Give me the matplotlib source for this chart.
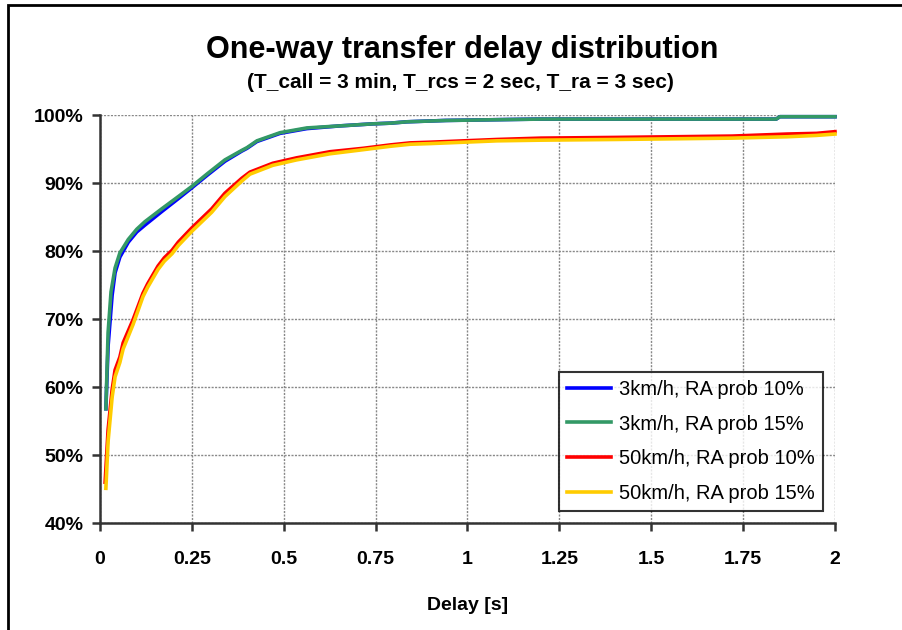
import matplotlib
matplotlib.use("Agg")
import matplotlib.pyplot as plt
from matplotlib.patches import Rectangle
from matplotlib.ticker import FuncFormatter, MultipleLocator

plt.rcParams['font.family'] = ['Liberation Sans', 'DejaVu Sans']

# ---- data (delay in s, cumulative fraction) ----
x_3km_10 = [0.016, 0.022, 0.033, 0.041, 0.054, 0.077, 0.10, 0.122, 0.168, 0.213, 0.25,
            0.293, 0.34, 0.386, 0.40, 0.427, 0.49, 0.563, 0.653, 0.743, 0.79, 0.835,
            0.94, 1.19, 1.84, 1.85, 2.0]
y_3km_10 = [0.568, 0.66, 0.735, 0.768, 0.791, 0.813, 0.828, 0.838, 0.858, 0.877, 0.893,
            0.912, 0.932, 0.947, 0.951, 0.961, 0.973, 0.980, 0.984, 0.987, 0.988, 0.990,
            0.992, 0.994, 0.994, 0.9975, 0.9975]

x_3km_15 = [0.016, 0.022, 0.030, 0.041, 0.054, 0.077, 0.10, 0.122, 0.168, 0.213, 0.25,
            0.293, 0.34, 0.386, 0.40, 0.427, 0.49, 0.563, 0.653, 0.743, 0.79, 0.835,
            0.945, 1.2, 1.84, 1.85, 2.0]
y_3km_15 = [0.568, 0.68, 0.74, 0.775, 0.797, 0.817, 0.832, 0.843, 0.862, 0.880, 0.895,
            0.914, 0.934, 0.948, 0.952, 0.962, 0.974, 0.981, 0.984, 0.987, 0.988, 0.990,
            0.992, 0.994, 0.994, 0.9975, 0.9975]

x_50km_10 = [0.014, 0.022, 0.033, 0.041, 0.054, 0.063, 0.09, 0.117, 0.13, 0.144, 0.158,
             0.175, 0.196, 0.213, 0.25, 0.304, 0.34, 0.386, 0.408, 0.47, 0.535, 0.626,
             0.716, 0.79, 0.844, 0.9, 0.99, 1.08, 1.2, 1.4, 1.72, 1.87, 1.95, 2.0]
y_50km_10 = [0.460, 0.537, 0.596, 0.625, 0.644, 0.665, 0.699, 0.738, 0.752, 0.765, 0.778,
             0.790, 0.801, 0.813, 0.834, 0.862, 0.885, 0.907, 0.916, 0.929, 0.937, 0.946,
             0.951, 0.956, 0.959, 0.960, 0.962, 0.964, 0.966, 0.967, 0.969, 0.972, 0.973,
             0.9755]

x_50km_15 = [0.016, 0.022, 0.033, 0.041, 0.054, 0.063, 0.09, 0.117, 0.13, 0.144, 0.158,
             0.175, 0.196, 0.213, 0.25, 0.304, 0.34, 0.386, 0.408, 0.47, 0.535, 0.626,
             0.716, 0.79, 0.844, 0.9, 0.99, 1.08, 1.2, 1.4, 1.72, 1.87, 1.95, 2.0]
y_50km_15 = [0.451, 0.520, 0.585, 0.615, 0.636, 0.656, 0.692, 0.733, 0.747, 0.760, 0.773,
             0.785, 0.796, 0.808, 0.829, 0.857, 0.880, 0.903, 0.913, 0.926, 0.934, 0.943,
             0.949, 0.954, 0.957, 0.958, 0.960, 0.962, 0.963, 0.964, 0.966, 0.968, 0.970,
             0.972]

series = [
    ("3km/h, RA prob 10%", x_3km_10, y_3km_10, "#0000FF"),
    ("3km/h, RA prob 15%", x_3km_15, y_3km_15, "#339966"),
    ("50km/h, RA prob 10%", x_50km_10, y_50km_10, "#FF0000"),
    ("50km/h, RA prob 15%", x_50km_15, y_50km_15, "#FFCC00"),
]

title = "One-way transfer delay distribution"
subtitle = "(T_call = 3 min, T_rcs = 2 sec, T_ra = 3 sec)"
xlabel = "Delay [s]"

fig = plt.figure(figsize=(9.03, 6.3), dpi=100)
ax = fig.add_axes([100/903, 1-523/630, 735/903, 408/630])

for lab, xs, ys, col in series:
    ax.plot(xs, ys, color=col, lw=2.6, label=lab, solid_joinstyle='round', clip_on=False)

ax.set_xlim(0, 2)
ax.set_ylim(0.4, 1.0)
ax.xaxis.set_major_locator(MultipleLocator(0.25))
ax.yaxis.set_major_locator(MultipleLocator(0.1))
ax.xaxis.set_major_formatter(FuncFormatter(lambda v, p: f"{v:g}"))
ax.yaxis.set_major_formatter(FuncFormatter(lambda v, p: f"{v*100:.0f}%"))

for s in ("top", "right"):
    ax.spines[s].set_visible(False)
for s in ("left", "bottom"):
    ax.spines[s].set_color("#333333")
    ax.spines[s].set_linewidth(1.8)

ax.grid(True, color="#888888", linestyle=(0, (1.5, 1.0)), linewidth=1.0)
ax.set_axisbelow(True)
ax.tick_params(axis='both', direction='out', length=6, width=1.8, color="#333333",
               labelsize=14)
ax.tick_params(axis='x', pad=14)
ax.tick_params(axis='y', pad=6)
for t in ax.get_xticklabels() + ax.get_yticklabels():
    t.set_fontweight('bold')

ax.set_xlabel(xlabel, fontsize=14, fontweight='bold', labelpad=21)

fig.text(0.512, 1-50/630, title, ha='center', va='center', fontsize=22, fontweight='bold')
fig.text(0.510, 1-82/630, subtitle, ha='center', va='center', fontsize=15, fontweight='bold')

leg = ax.legend(loc='lower right', bbox_to_anchor=(823/903, 1-511/630),
                bbox_transform=fig.transFigure, fontsize=14.5, frameon=True,
                fancybox=False, handlelength=2.2, labelspacing=0.78,
                borderpad=0.4, handletextpad=0.4, borderaxespad=0)
leg.get_frame().set_edgecolor("black")
leg.get_frame().set_linewidth(1.5)
for h in leg.get_lines():
    h.set_linewidth(2.6)

# figure border
fig.patches.append(Rectangle((8/903, -0.05), 1.1, 1-5/630 + 0.05, transform=fig.transFigure,
                             fill=False, edgecolor='black', linewidth=2, clip_on=False))

fig.savefig("out.png", dpi=100)
